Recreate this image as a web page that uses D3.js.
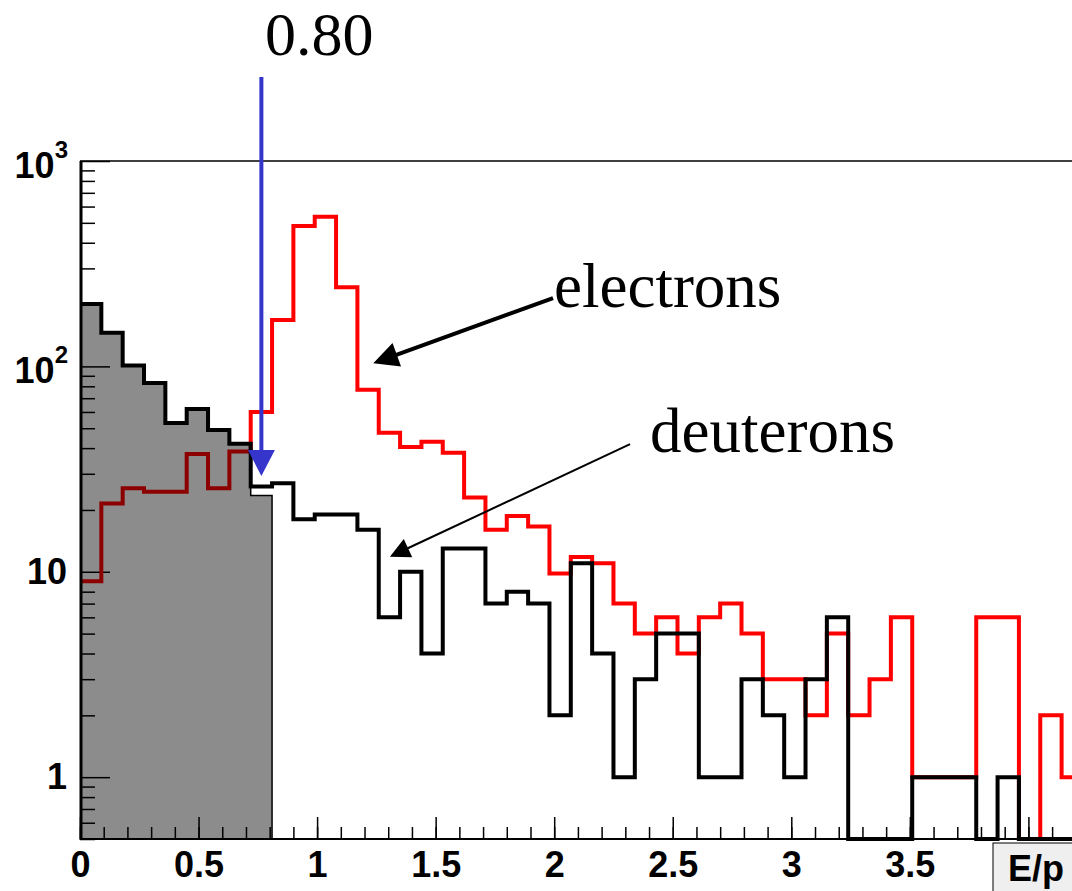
<!DOCTYPE html>
<html>
<head>
<meta charset="utf-8">
<script src="https://cdn.jsdelivr.net/npm/d3@7"></script>
<style>
  body { margin: 0; background: #fff; }
  svg { display: block; }
</style>
</head>
<body>
<svg id="ep-plot" width="1072" height="891"></svg>
<script>
// E/p histogram, log scale, bins of 0.09
const binWidth = 0.09;
const xTicksMajor = [0, 0.5, 1, 1.5, 2, 2.5, 3, 3.5, 4];
const yTicksMajor = [1, 10, 100, 1000];
const yLabels = [["1", ""], ["10", ""], ["10", "2"], ["10", "3"]];

// counts per bin (0 = empty bin)
const electrons = [9, 21.5, 25.5, 24.5, 24.5, 37.5, 25.5, 38.5, 60, 168,
  483, 536, 243, 77, 47.5, 40.5, 43, 38, 23, 16,
  18.7, 16.6, 9.8, 11.8, 11, 7, 5, 6, 4, 6,
  7, 5, 3, 3, 2, 5, 2, 3, 6, 1,
  1, 1, 6, 6, 0, 2, 1];
const deuterons = [201, 146, 101, 83, 53, 62, 49, 42, 26, 27,
  18, 19, 19, 16, 6, 10, 4, 13, 13, 7,
  8, 7, 2, 11, 4, 1, 3, 5, 5, 1,
  1, 3, 2, 1, 3, 6, 0, 0, 0, 1,
  1, 1, 0, 1, 0, 0, 0];
// deuterons below the cut (shaded)
const shaded = [201, 146, 101, 83, 53, 62, 49, 42, 23.5];

const svg = d3.select("#ep-plot");
const width = +svg.attr("width");

const x = d3.scaleLinear().domain([0, 4.5]).range([80, 80 + 4.5 * 237.1]);
const yMin = 0.5;
const y = d3.scaleLog().domain([yMin, 1000]).range([839, 161]);

const defs = svg.append("defs");
defs.append("clipPath").attr("id", "frame")
  .append("rect").attr("x", 80).attr("y", 150).attr("width", width - 80).attr("height", 700);

const toSteps = (vals) => {
    const pts = vals.map((v, i) => [i * binWidth, v]);
    pts.push([vals.length * binWidth, vals[vals.length - 1]]);
    return pts;
};
const yv = (v) => y(Math.max(v, yMin));

const stepLine = d3.line()
    .curve(d3.curveStepAfter)
    .x(d => x(d[0]))
    .y(d => yv(d[1]));

const stepArea = d3.area()
    .curve(d3.curveStepAfter)
    .x(d => x(d[0]))
    .y0(y(yMin))
    .y1(d => yv(d[1]));

// --- axes ---
const xMinor = d3.range(0, 4.51, 0.1).map(d => +d.toFixed(2));
svg.append("g")
    .attr("transform", "translate(0," + y(yMin) + ")")
    .call(d3.axisBottom(x).tickValues(xMinor).tickSize(-12).tickFormat(""))
    .call(g => g.select(".domain").remove());

svg.append("g")
    .attr("class", "x-axis")
    .attr("transform", "translate(0," + y(yMin) + ")")
    .call(d3.axisBottom(x).tickValues(xTicksMajor).tickSize(-22).tickPadding(12)
        .tickFormat(d => d >= 4 ? "" : d3.format("~g")(d)))
    .call(g => g.select(".domain").remove())
    .call(g => g.selectAll("text")
        .attr("font-family", "Liberation Sans, Arial, sans-serif")
        .attr("font-weight", "bold")
        .attr("font-size", 36)
        .attr("fill", "#000"));

const yMinor = [];
[0.1, 1, 10, 100].forEach(dec => {
    for (let m = 2; m <= 9; m++) {
        const v = +(m * dec).toFixed(3);
        if (v >= yMin && v <= 1000) yMinor.push(v);
    }
});
svg.append("g")
    .attr("transform", "translate(80,0)")
    .call(d3.axisLeft(y).tickValues(yMinor).tickSize(-15).tickFormat(""))
    .call(g => g.select(".domain").remove());
svg.append("g")
    .attr("transform", "translate(80,0)")
    .call(d3.axisLeft(y).tickValues(yTicksMajor).tickSize(-30).tickFormat(""))
    .call(g => g.select(".domain").remove());

svg.selectAll(".tick line").attr("stroke", "#000").attr("stroke-width", 1.5);

// y labels with superscripts
const yl = svg.append("g")
    .attr("font-family", "Liberation Sans, Arial, sans-serif")
    .attr("font-weight", "bold")
    .attr("text-anchor", "end");
yTicksMajor.forEach((t, i) => {
    const [base, exp] = yLabels[i];
    if (exp) {
        const txt = yl.append("text")
            .attr("x", 68).attr("y", y(t) + 17)
            .attr("font-size", 36);
        txt.append("tspan").text(base);
        txt.append("tspan").attr("dy", -20).attr("font-size", 24).text(exp);
    } else {
        yl.append("text")
            .attr("x", 67).attr("y", y(t) + 12)
            .attr("font-size", 36)
            .text(base);
    }
});

// --- histograms ---
const plot = svg.append("g").attr("clip-path", "url(#frame)");

plot.append("path")
    .attr("d", stepLine(toSteps(electrons)))
    .attr("fill", "none")
    .attr("stroke", "#ff0000")
    .attr("stroke-width", 4);

// shaded part: half-dark fill over the red line, like ROOT's dotted fill
plot.append("path")
    .attr("d", stepArea(toSteps(shaded)))
    .attr("fill", "#000")
    .attr("fill-opacity", 0.45)
    .attr("stroke", "#000")
    .attr("stroke-width", 1.5);

plot.append("path")
    .attr("d", stepLine(toSteps(deuterons)))
    .attr("fill", "none")
    .attr("stroke", "#000")
    .attr("stroke-width", 4);

// frame lines
svg.append("line")
    .attr("x1", 80).attr("x2", width).attr("y1", y(1000)).attr("y2", y(1000))
    .attr("stroke", "#000").attr("stroke-width", 1.5);
svg.append("line")
    .attr("x1", 80).attr("x2", width).attr("y1", y(yMin)).attr("y2", y(yMin))
    .attr("stroke", "#000").attr("stroke-width", 2);
svg.append("line")
    .attr("x1", 81).attr("x2", 81).attr("y1", y(1000)).attr("y2", y(yMin) + 1)
    .attr("stroke", "#000").attr("stroke-width", 3);

// axis title box
svg.append("rect")
    .attr("x", 993).attr("y", 843).attr("width", 100).attr("height", 60)
    .attr("fill", "#efefef").attr("stroke", "#000").attr("stroke-width", 1);
svg.append("text")
    .attr("x", 1008).attr("y", 881)
    .attr("font-family", "Liberation Sans, Arial, sans-serif")
    .attr("font-weight", "bold").attr("font-size", 36)
    .text("E/p");

// --- annotations ---
function arrow(from, to, color, lw, headLen, headW) {
    const x0 = x(from[0]), y0 = y(from[1]);
    const x1 = x(to[0]), y1 = y(to[1]);
    const dx = x1 - x0, dy = y1 - y0;
    const len = Math.sqrt(dx * dx + dy * dy);
    const ux = dx / len, uy = dy / len;
    const bx = x1 - ux * headLen, by = y1 - uy * headLen;
    svg.append("line")
        .attr("x1", x0).attr("y1", y0).attr("x2", bx + ux * 2).attr("y2", by + uy * 2)
        .attr("stroke", color).attr("stroke-width", lw);
    const pts = [
        [x1, y1],
        [bx - uy * headW / 2, by + ux * headW / 2],
        [bx + uy * headW / 2, by - ux * headW / 2]
    ];
    svg.append("polygon")
        .attr("points", pts.map(p => p.join(",")).join(" "))
        .attr("fill", color);
}

arrow([0.765, 2565], [0.765, 29.3], "#3535cc", 4, 26, 27);
arrow([1.995, 215], [1.237, 103.5], "#000", 4, 25, 25);
arrow([2.32, 41.8], [1.307, 11.85], "#000", 2, 20, 20);

const serif = "Liberation Serif, Times New Roman, serif";
svg.append("text").attr("x", 265).attr("y", 55)
    .attr("font-family", serif).attr("font-size", 62).text("0.80");
svg.append("text").attr("x", 554).attr("y", 307)
    .attr("font-family", serif).attr("font-size", 63).text("electrons");
svg.append("text").attr("x", 650).attr("y", 452)
    .attr("font-family", serif).attr("font-size", 63).text("deuterons");
</script>
</body>
</html>
